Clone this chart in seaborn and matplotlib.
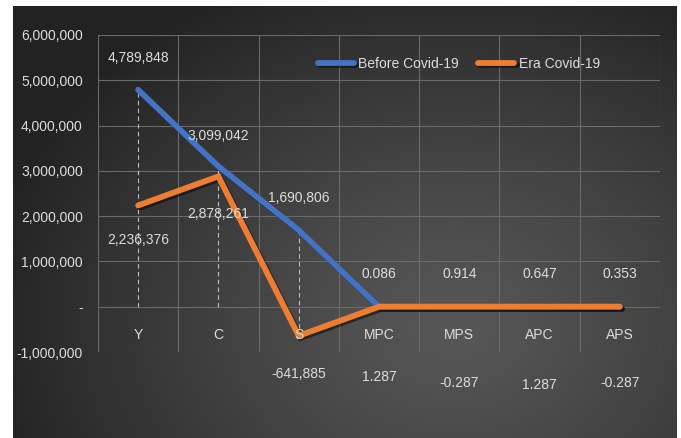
import numpy as np
import pandas as pd
import matplotlib
matplotlib.use("Agg")
import matplotlib.pyplot as plt
import matplotlib.patheffects as pe
import matplotlib.transforms as mtransforms
from matplotlib.ticker import FuncFormatter, FixedLocator
import seaborn as sns

categories = ["Y", "C", "S", "MPC", "MPS", "APC", "APS"]
before_vals = [4789848, 3099042, 1690806, 0.086, 0.914, 0.647, 0.353]
era_vals = [2236376, 2878261, -641885, 1.287, -0.287, 1.287, -0.287]
before_labels = ["4,789,848", "3,099,042", "1,690,806", "0.086", "0.914", "0.647", "0.353"]
era_labels = ["2,236,376", "2,878,261", "-641,885", "1.287", "-0.287", "1.287", "-0.287"]
series_names = ["Before Covid-19", "Era Covid-19"]
y_ticks = [-1000000, 0, 1000000, 2000000, 3000000, 4000000, 5000000, 6000000]

sns.set_theme(style="dark")
plt.rcParams["font.family"] = ["Liberation Sans", "DejaVu Sans"]
FS = 10
TXT = "#dcdcdc"

W, H = 681, 438
fig = plt.figure(figsize=(W / 100, H / 100), dpi=100)
fig.patch.set_facecolor("white")

# gradient background panel
bg = fig.add_axes([13 / W, 0, (677 - 13) / W, (H - 6) / H])
bg.set_axis_off()
gx, gy = np.meshgrid(np.linspace(0, 664, 300), np.linspace(0, 432, 200))
cx, cy = 440, 320
r = np.sqrt(((gx - cx) / 1.0) ** 2 + ((gy - cy) / 0.8) ** 2)
t = np.clip(r / 480, 0, 1) ** 1.2
c_in = np.array([0x57, 0x57, 0x57]) / 255
c_out = np.array([0x22, 0x22, 0x22]) / 255
img = c_in[None, None, :] * (1 - t[..., None]) + c_out[None, None, :] * t[..., None]
bg.imshow(img, aspect="auto", extent=[0, 1, 0, 1], origin="upper")

left, right, top, bottom = 98, 660, 35, 352
ax = fig.add_axes([left / W, 1 - bottom / H, (right - left) / W, (bottom - top) / H])
ax.set_facecolor("none")

df = pd.DataFrame({
    "cat": categories * 2,
    "x": list(range(len(categories))) * 2,
    "value": before_vals + era_vals,
    "series": [series_names[0]] * len(categories) + [series_names[1]] * len(categories),
})

# drop lines
for i in range(3):
    hi = max(before_vals[i], era_vals[i], 0)
    lo = min(before_vals[i], era_vals[i], 0)
    ax.vlines(i, lo, hi, colors="#bfbfbf", linestyles=(0, (4, 3)), linewidth=0.8, zorder=2)

shadow = [pe.SimpleLineShadow(offset=(1.5, -1.5), shadow_color="black", alpha=0.5), pe.Normal()]
sns.lineplot(data=df, x="x", y="value", hue="series",
             palette=["#4472C4", "#ED7D31"], linewidth=4.2, ax=ax, sort=False,
             legend=True, zorder=3)
for ln in ax.get_lines():
    if ln.get_linewidth() > 3:
        ln.set_solid_capstyle("round")
        ln.set_solid_joinstyle("miter")
        ln.set_path_effects(shadow)

ax.set_xlim(-0.5, 6.5)
ax.set_ylim(-1000000, 6000000)
ax.set_yticks(y_ticks)
ax.yaxis.set_major_formatter(FuncFormatter(lambda v, p: "-" if v == 0 else f"{int(v):,}"))
ax.set_xticks(range(len(categories)))
ax.set_xticklabels([])
ax.xaxis.set_minor_locator(FixedLocator(np.arange(-0.5, 7, 1)))
ax.grid(False)
ax.grid(True, which="major", axis="y", color="#6a6a6a", linewidth=0.8)
ax.grid(True, which="minor", axis="x", color="#6a6a6a", linewidth=0.8)
ax.tick_params(axis="both", which="both", length=0, colors=TXT, labelsize=FS)
ax.tick_params(axis="y", pad=11)
for s in ax.spines.values():
    s.set_visible(False)
ax.set_xlabel("")
ax.set_ylabel("")

# category labels drawn on top of the lines, just below the zero line
trans = mtransforms.offset_copy(ax.transData, fig=fig, x=0, y=-28 * 0.72, units="points")
for i, c in enumerate(categories):
    ax.text(i, 0, c, transform=trans, ha="center", va="center", color=TXT,
            fontsize=FS, zorder=6)

# data labels
b_off = [32, 30, 32, 33, 33, 33, 33]
e_off = [-35, -38, -38, -70, -76, -78, -76]
for i in range(len(categories)):
    ax.annotate(before_labels[i], (i, before_vals[i]), xytext=(0, b_off[i] * 0.72),
                textcoords="offset points", ha="center", va="center",
                color=TXT, fontsize=FS, zorder=5)
    ax.annotate(era_labels[i], (i, era_vals[i]), xytext=(0, e_off[i] * 0.72),
                textcoords="offset points", ha="center", va="center",
                color=TXT, fontsize=FS, zorder=5)

leg = ax.legend(loc="upper right", bbox_to_anchor=(0.915, 0.97), ncol=2, frameon=False,
                fontsize=FS, handlelength=2.6, handletextpad=0.3, columnspacing=1.4)
for txt in leg.get_texts():
    txt.set_color(TXT)
for h in leg.legend_handles:
    h.set_linewidth(4.2)
    h.set_solid_capstyle("round")

fig.savefig("out.png", dpi=100, facecolor=fig.get_facecolor())
